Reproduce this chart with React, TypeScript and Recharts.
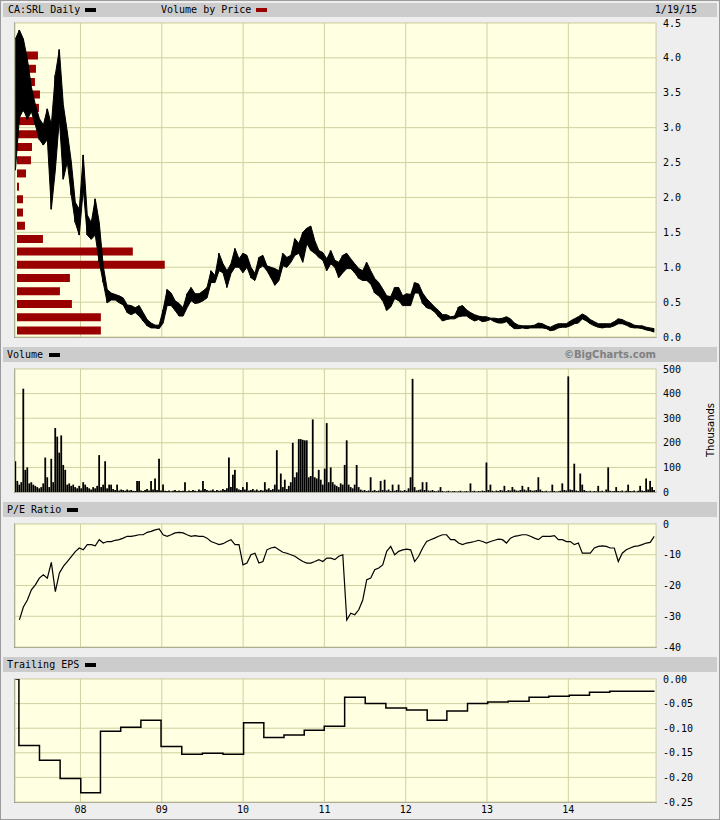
import React from "react";
import {
  Area,
  Bar,
  BarChart,
  CartesianGrid,
  ComposedChart,
  Line,
  XAxis,
  YAxis
} from "recharts";

// one price / PE reading every ~18 days, volume every ~9 days, from mid-March 2007
const START_YEAR = 2007.2;
const PRICE_STEP = 0.0491;
const VOLUME_STEP = 0.02455;

const yearTicks = [2008, 2009, 2010, 2011, 2012, 2013, 2014];
const priceTicks = [0, 0.5, 1, 1.5, 2, 2.5, 3, 3.5, 4, 4.5];
const volumeTicks = [0, 100, 200, 300, 400, 500];
const peTicks = [-40, -30, -20, -10, 0];
const epsTicks = [-0.25, -0.2, -0.15, -0.1, -0.05, 0];

const priceHigh = [
  4.27, 4.4, 4.27, 3.98, 3.58, 3.33, 3.13, 3.04, 3.27, 3.04,
  3.76, 4.12, 3.33, 2.94, 2.51, 1.93, 1.83, 2.61, 1.75, 1.64,
  1.98, 1.64, 1.02, 0.68, 0.63, 0.61, 0.59, 0.56, 0.46, 0.45,
  0.42, 0.45, 0.35, 0.25, 0.2, 0.17, 0.17, 0.39, 0.68, 0.63,
  0.52, 0.48, 0.42, 0.62, 0.71, 0.62, 0.62, 0.66, 0.71, 0.95,
  0.88, 1.2, 1.05, 0.95, 1.05, 1.27, 1.12, 1.2, 1.17, 1.0,
  0.91, 1.14, 1.17, 1.02, 1.0, 0.98, 0.95, 1.2, 1.14, 1.17,
  1.41, 1.34, 1.5, 1.56, 1.59, 1.38, 1.24, 1.21, 1.12, 1.24,
  1.1, 1.07, 1.17, 1.2, 1.12, 1.05, 0.98, 0.95, 1.07, 0.95,
  0.84, 0.78, 0.69, 0.59, 0.58, 0.71, 0.71, 0.59, 0.62, 0.61,
  0.78, 0.76, 0.63, 0.55, 0.49, 0.43, 0.38, 0.32, 0.32, 0.29,
  0.3, 0.43, 0.45, 0.39, 0.35, 0.32, 0.3, 0.29, 0.29, 0.27,
  0.27, 0.26, 0.27, 0.29, 0.26, 0.2, 0.17, 0.16, 0.16, 0.16,
  0.17, 0.2, 0.19, 0.16, 0.14, 0.17, 0.19, 0.19, 0.19, 0.23,
  0.26, 0.29, 0.33, 0.3, 0.25, 0.22, 0.19, 0.19, 0.19, 0.19,
  0.22, 0.26, 0.25, 0.22, 0.2, 0.17, 0.16, 0.16, 0.14, 0.13,
  0.12
];

const priceLow = [
  2.39, 3.14, 3.26, 3.12, 3.23, 3.04, 2.83, 2.75, 2.83, 1.83,
  2.39, 3.12, 2.26, 2.51, 2.03, 1.64, 1.46, 2.12, 1.46, 1.4,
  1.46, 1.07, 0.78, 0.49, 0.53, 0.53, 0.49, 0.46, 0.35, 0.32,
  0.35, 0.3, 0.23, 0.16, 0.13, 0.13, 0.12, 0.2, 0.45, 0.45,
  0.38, 0.3, 0.3, 0.42, 0.52, 0.48, 0.49, 0.52, 0.56, 0.78,
  0.78, 0.95, 0.92, 0.71, 0.91, 1.0, 1.0, 0.92, 1.0, 0.85,
  0.81, 0.98, 1.02, 0.95, 0.85, 0.74, 0.81, 1.02, 1.0, 1.07,
  1.17, 1.2, 1.07, 1.34, 1.24, 1.2, 1.14, 1.1, 0.95, 1.05,
  1.0, 0.85, 0.92, 0.98, 0.98, 0.92, 0.84, 0.81, 0.81, 0.76,
  0.63, 0.59, 0.52, 0.38, 0.43, 0.55, 0.52, 0.45, 0.45, 0.45,
  0.63, 0.63, 0.48, 0.42, 0.4, 0.36, 0.29, 0.23, 0.25, 0.26,
  0.26, 0.29, 0.3, 0.3, 0.26, 0.23, 0.25, 0.22, 0.23, 0.25,
  0.22, 0.2, 0.2, 0.22, 0.16, 0.12, 0.12, 0.13, 0.12, 0.13,
  0.13, 0.13, 0.13, 0.12, 0.09, 0.1, 0.13, 0.14, 0.14, 0.16,
  0.19, 0.2, 0.26, 0.23, 0.19, 0.16, 0.14, 0.13, 0.14, 0.14,
  0.16, 0.19, 0.19, 0.17, 0.14, 0.13, 0.13, 0.12, 0.1, 0.09,
  0.07
];

const peRatio = [
  null, -31.2, -27, -24.7, -21.4, -19.8, -17.6, -16.5, -17.6, -12.5,
  -22, -16, -13.8, -12.2, -10.6, -9, -7.8, -8.4, -6.7, -6.7,
  -7.1, -5.1, -6.2, -5.7, -5.7, -5.3, -5.1, -4.6, -4, -4,
  -3.8, -3.5, -3.5, -2.7, -2.4, -1.9, -1.6, -3.5, -4, -3.5,
  -2.9, -2.7, -2.9, -3.5, -4, -3.8, -4, -4, -4.6, -5.7,
  -6.2, -6.7, -6.4, -5.7, -5.1, -6.7, -6.7, -13.3, -12.7, -10,
  -9.5, -12.7, -12.2, -8.4, -7.8, -7.5, -8.4, -9.2, -9.5, -10,
  -10.5, -11.4, -12.2, -12.7, -12.7, -12.2, -11.6, -12.2, -11.1, -11.1,
  -11.6, -10.5, -10, -31.2, -29, -29.5, -27.9, -24.7, -18.1, -17.6,
  -14.9, -14.3, -13.3, -8.9, -7.3, -10, -8.9, -8.4, -8.2, -8.4,
  -12.2, -10.5, -7.8, -5.7, -5.1, -4.6, -4, -3.5, -3.5, -5.1,
  -5.1, -6.2, -6.7, -6.2, -6, -5.7, -5.3, -5.7, -6.2, -5.7,
  -5.3, -4.9, -5.1, -6.2, -4.6, -4, -3.8, -3.5, -3.5, -4,
  -4.6, -5.1, -4, -4, -4, -3.8, -5.1, -5.1, -5.7, -5.7,
  -6.7, -6.2, -9.5, -9.5, -9.5, -7.8, -7.3, -7.1, -7.3, -7.8,
  -7.8, -12.2, -9.5, -8.4, -7.8, -7.3, -7.1, -6.7, -6.2, -6,
  -4
];

// thousands of shares
const volume = [
  125, 45, 30, 40, 420, 90, 100, 35, 40, 30,
  25, 20, 15, 20, 35, 140, 60, 20, 135, 40,
  260, 225, 160, 230, 110, 90, 30, 35, 25, 30,
  20, 15, 25, 15, 40, 30, 20, 15, 10, 20,
  15, 25, 150, 20, 30, 125, 15, 30,
  30, 12, 8, 30, 6, 10, 8, 5, 10, 6,
  8, 5, 4, 45, 45, 6, 4, 8, 12, 6,
  45, 10, 55, 8, 135, 6, 30, 5, 4, 6,
  3, 5, 8, 4, 6, 4, 5, 40, 3, 6,
  4, 8, 5, 3, 10, 6, 45, 12, 8, 5,
  6, 10, 4, 8, 5, 6, 12, 8, 15, 140,
  20, 70, 90, 15, 10, 8, 20, 10, 40, 6,
  8, 12, 6, 10, 5, 8, 6, 40, 10, 15,
  8, 12, 30, 170, 10, 75, 20, 50, 12, 25,
  40, 200, 60, 80, 215, 215, 212, 210, 210, 60,
  65, 295, 60, 55, 90, 50, 30, 95, 280, 40,
  100, 40, 30, 25, 20, 35, 30, 110, 210, 30,
  20, 15, 30, 110, 20,
  10, 6, 8, 4, 6, 60, 5, 8, 4, 6,
  45, 8, 50, 6, 10, 4, 30, 5, 8, 30,
  6, 4, 8, 5, 15, 60, 460, 20, 6, 8,
  10, 40, 8, 40, 6, 5, 8, 4, 3, 6,
  20, 4, 2, 3, 5, 2, 3, 4, 2, 3,
  5, 2, 3, 4, 2, 35, 3, 5, 2, 4,
  3, 6, 4, 120, 8, 30, 5, 3, 6, 4,
  8, 6, 25, 4, 8, 6, 20, 10, 6, 5,
  8, 25, 10, 6, 20, 8, 5, 6, 8, 60,
  10, 4, 3, 5, 2, 3, 30, 4, 2, 3,
  5, 35, 8, 6, 470, 10, 8, 115, 6, 4,
  75, 30, 8, 4, 3, 5, 2, 4, 3, 25,
  3, 5, 2, 10, 100, 5, 3, 4, 20, 4,
  3, 6, 2, 5, 30, 4, 3, 6, 2, 5,
  25, 6, 4, 55, 10, 45, 20, 8
];

// volume by price: price bucket centres and relative traded volume
const vbpPrice = [
  0.09, 0.28, 0.47, 0.65, 0.84, 1.03, 1.22, 1.4, 1.59, 1.78, 1.97,
  2.15, 2.34, 2.53, 2.72, 2.9, 3.09, 3.28, 3.47, 3.65, 3.84, 4.03
];
const vbpVolume = [
  84, 84, 55, 43, 53, 148, 116, 26, 8, 6, 6,
  2, 9, 14, 15, 36, 22, 22, 23, 18, 19, 21
];

const epsDate = [
  2007.2, 2007.243, 2007.496, 2007.75, 2008.004, 2008.246, 2008.495, 2008.743,
  2008.991, 2009.246, 2009.499, 2009.753, 2010.006, 2010.255, 2010.503, 2010.752,
  2010.998, 2011.249, 2011.502, 2011.756, 2012.01, 2012.264, 2012.506, 2012.76,
  2013.008, 2013.26, 2013.517, 2013.76, 2014.012, 2014.26, 2014.51, 2015.06
];
const epsValue = [
  0, -0.135, -0.165, -0.202, -0.231, -0.106, -0.098, -0.084,
  -0.137, -0.153, -0.151, -0.153, -0.089, -0.119, -0.114, -0.104,
  -0.096, -0.037, -0.05, -0.059, -0.063, -0.084, -0.065, -0.05,
  -0.047, -0.045, -0.037, -0.035, -0.033, -0.027, -0.025, -0.025
];

const priceRows = priceHigh.map((h, i) => ({
  t: START_YEAR + i * PRICE_STEP,
  range: [priceLow[i], h],
  pe: peRatio[i]
}));
const volumeRows = volume.map((v, i) => ({ t: START_YEAR + i * VOLUME_STEP, v }));
const vbpRows = vbpPrice.map((p, i) => ({ price: p, shares: vbpVolume[i] }));
const epsRows = epsDate.map((t, i) => ({ t, eps: epsValue[i] }));

const W = 720;
const LEFT = 15;
const AXIS_W = 64;
const PAD = 8;
const X_DOMAIN: [number, number] = [2007.195, 2015.078];
const PLOT_BG = "#ffffe2";
const GRID = "#d0d0a0";
const MONO = "'DejaVu Sans Mono', monospace";
const tickStyle = { fontFamily: MONO, fontSize: 10, fill: "#000" };

function PlotBorder({ top, height }: { top: number; height: number }) {
  return (
    <div
      style={{
        position: "absolute",
        left: LEFT - 1,
        top: top - 1,
        width: W - LEFT - AXIS_W,
        height,
        borderLeft: "1px solid #8c8c8c",
        borderBottom: "1px solid #8c8c8c",
        borderTop: "1px solid #e4e4e4",
        borderRight: "1px solid #e4e4e4"
      }}
    />
  );
}

interface PanelProps {
  top: number;
  height: number;
  data: any[];
  yDomain: [number, number];
  yTicks: number[];
  fmt: (v: number) => string;
  showDates?: boolean;
  children?: React.ReactNode;
}

function Panel({ top, height, data, yDomain, yTicks, fmt, showDates, children }: PanelProps) {
  const bottom = showDates ? 22 : PAD;
  return (
    <div style={{ position: "absolute", left: 0, top: top - PAD }}>
      <ComposedChart
        width={W}
        height={height + PAD + bottom}
        data={data}
        margin={{ top: PAD, right: 0, bottom: showDates ? 0 : PAD, left: LEFT }}
      >
        <CartesianGrid fill={PLOT_BG} fillOpacity={1} stroke={GRID} />
        <XAxis
          dataKey="t"
          type="number"
          domain={X_DOMAIN}
          ticks={yearTicks}
          interval={0}
          allowDataOverflow
          hide={!showDates}
          height={22}
          tickFormatter={(v: number) => String(v).slice(2)}
          tick={tickStyle}
          tickLine={false}
          axisLine={false}
          tickSize={0}
          tickMargin={4}
        />
        <YAxis
          orientation="right"
          width={AXIS_W}
          type="number"
          domain={yDomain}
          ticks={yTicks}
          interval={0}
          allowDataOverflow
          tickFormatter={fmt}
          tick={tickStyle}
          tickLine={false}
          axisLine={false}
          tickSize={0}
          tickMargin={7}
        />
        {children}
      </ComposedChart>
    </div>
  );
}

function Strip({ top, height, children }: { top: number; height: number; children: React.ReactNode }) {
  return (
    <div
      style={{
        position: "absolute",
        left: 3,
        top,
        width: 714,
        height,
        background: "#cccccc",
        fontFamily: MONO,
        fontSize: 10,
        lineHeight: `${height}px`,
        color: "#000"
      }}
    >
      {children}
    </div>
  );
}

function Caption({ x, text, swatch, swatchX }: { x: number; text: string; swatch: string; swatchX: number }) {
  return (
    <>
      <span style={{ position: "absolute", left: x - 3, top: 0, whiteSpace: "pre" }}>{text}</span>
      <span
        style={{
          position: "absolute",
          left: swatchX - 3,
          top: "50%",
          marginTop: -2,
          width: 11,
          height: 4,
          background: swatch
        }}
      />
    </>
  );
}

export default function App() {
  return (
    <div
      style={{
        position: "absolute",
        left: 0,
        top: 0,
        width: W,
        height: 820,
        boxSizing: "border-box",
        background: "#eeeeee",
        border: "1px solid #9a9a9a",
        overflow: "hidden"
      }}
    >
      <div style={{ position: "absolute", left: -1, top: -1, width: W, height: 820 }}>
        <Strip top={3} height={14}>
          <Caption x={8} text="CA:SRL Daily" swatch="#000" swatchX={85} />
          <Caption x={161} text="Volume by Price" swatch="#990000" swatchX={256} />
          <span style={{ position: "absolute", right: 20, top: 0 }}>1/19/15</span>
        </Strip>

        {/* price panel: grid, volume-by-price bars, then the daily ranges on top */}
        <PlotBorder top={23} height={314} />
        <Panel top={23} height={314} data={priceRows} yDomain={[0, 4.5]} yTicks={priceTicks} fmt={(v) => v.toFixed(1)} />
        <div style={{ position: "absolute", left: 0, top: 23 - PAD }}>
          <BarChart
            width={W}
            height={314 + 2 * PAD}
            data={vbpRows}
            layout="vertical"
            margin={{ top: PAD, right: AXIS_W, bottom: PAD, left: LEFT }}
          >
            <XAxis type="number" domain={[-2, 640]} hide allowDataOverflow />
            <YAxis type="number" dataKey="price" domain={[0, 4.5]} reversed hide allowDataOverflow />
            <Bar dataKey="shares" fill="#990000" barSize={8} isAnimationActive={false} />
          </BarChart>
        </div>
        <div style={{ position: "absolute", left: 0, top: 23 - PAD }}>
          <ComposedChart
            width={W}
            height={314 + 2 * PAD}
            data={priceRows}
            margin={{ top: PAD, right: AXIS_W, bottom: PAD, left: LEFT }}
          >
            <XAxis dataKey="t" type="number" domain={X_DOMAIN} hide allowDataOverflow />
            <YAxis type="number" domain={[0, 4.5]} hide allowDataOverflow />
            <Area
              type="linear"
              dataKey="range"
              stroke="#000"
              strokeWidth={1}
              fill="#000"
              fillOpacity={1}
              dot={false}
              activeDot={false}
              isAnimationActive={false}
            />
            <Bar dataKey="range" fill="#000" barSize={1} isAnimationActive={false} />
          </ComposedChart>
        </div>

        <Strip top={347} height={15}>
          <Caption x={7} text="Volume" swatch="#000" swatchX={49} />
          <span
            style={{
              position: "absolute",
              right: 61,
              top: 0,
              fontFamily: "'DejaVu Sans', sans-serif",
              fontWeight: "bold",
              fontSize: 10,
              color: "#808080"
            }}
          >
            ©BigCharts.com
          </span>
        </Strip>
        <PlotBorder top={369} height={123} />
        <Panel top={369} height={123} data={volumeRows} yDomain={[0, 500]} yTicks={volumeTicks} fmt={(v) => String(v)}>
          <Bar dataKey="v" fill="#000" barSize={2} isAnimationActive={false} />
        </Panel>
        <div
          style={{
            position: "absolute",
            left: 710,
            top: 430,
            transform: "translate(-50%, -50%) rotate(-90deg)",
            fontFamily: "'DejaVu Sans', sans-serif",
            fontSize: 10,
            whiteSpace: "nowrap"
          }}
        >
          Thousands
        </div>

        <Strip top={502} height={15}>
          <Caption x={7} text="P/E Ratio" swatch="#000" swatchX={67} />
        </Strip>
        <PlotBorder top={524} height={123} />
        <Panel top={524} height={123} data={priceRows} yDomain={[-40, 0]} yTicks={peTicks} fmt={(v) => String(v)}>
          <Line
            type="linear"
            dataKey="pe"
            stroke="#000"
            strokeWidth={1.2}
            dot={false}
            activeDot={false}
            isAnimationActive={false}
          />
        </Panel>

        <Strip top={657} height={15}>
          <Caption x={7} text="Trailing EPS" swatch="#000" swatchX={85} />
        </Strip>
        <PlotBorder top={679} height={123} />
        <Panel
          top={679}
          height={123}
          data={epsRows}
          yDomain={[-0.25, 0]}
          yTicks={epsTicks}
          fmt={(v) => v.toFixed(2)}
          showDates
        >
          <Line
            type="stepAfter"
            dataKey="eps"
            stroke="#000"
            strokeWidth={1.5}
            dot={false}
            activeDot={false}
            isAnimationActive={false}
          />
        </Panel>
      </div>
    </div>
  );
}
